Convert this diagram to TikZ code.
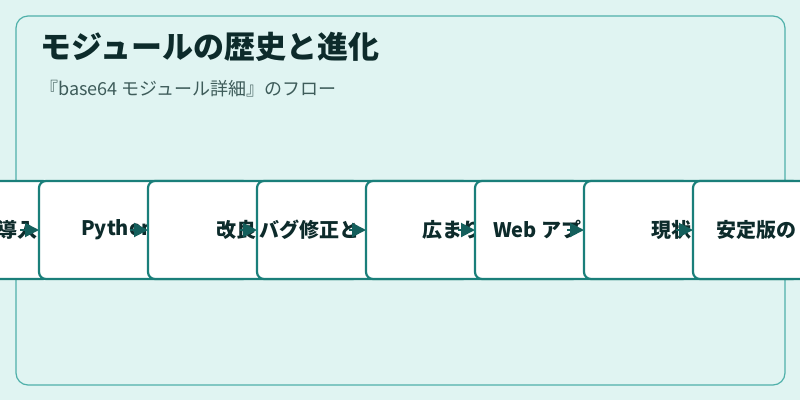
\documentclass[tikz,border=0pt]{standalone}
\usepackage{fontspec}
\setmainfont{Noto Sans CJK JP}
\usetikzlibrary{arrows.meta}
\definecolor{bgc}{HTML}{E0F4F2}
\definecolor{frame}{HTML}{4FB0AA}
\definecolor{edge}{HTML}{1A7F7A}
\definecolor{tip}{HTML}{145F5C}
\definecolor{txt}{HTML}{0D2B2B}
\definecolor{subc}{HTML}{3E5C5A}
\tikzset{
  stage/.style={draw=edge, line width=2.2pt, fill=white, rounded corners=7pt},
  lbl/.style={text=txt, font=\fontsize{20}{24}\selectfont\bfseries, inner sep=0pt},
  flow/.style={-{Triangle[length=14pt,width=14pt]}, tip, line width=2pt}
}
\begin{document}
\begin{tikzpicture}[x=1pt,y=-1pt]
\useasboundingbox (0,0) rectangle (800,400);
\fill[bgc] (0,0) rectangle (800,400);
\draw[frame, line width=1.2pt, rounded corners=12pt] (16,16) rectangle (785,385);
\node[anchor=west, text=txt, font=\fontsize{31}{36}\selectfont\bfseries, inner sep=0pt] (title) at (40,47) {モジュールの歴史と進化};
\node[anchor=west, text=subc, font=\fontsize{18}{21}\selectfont, inner sep=0pt] (sub) at (40,89) {『base64 モジュール詳細』のフロー};
\begin{scope}
\clip (0,0) rectangle (800,400);
\draw[stage] (-170,181) rectangle (50,279);
\node[lbl, anchor=east] (t1) at (38,230) {導入};
\coordinate (b2) at (39,230);
\draw[flow] (20,230) -- (b2);
\draw[stage] (39,181) rectangle (250,279);
\node[lbl, anchor=west] (t2) at (81,230) {Python};
\coordinate (b3) at (148,230);
\draw[flow] (130,230) -- (b3);
\draw[stage] (148,181) rectangle (360,279);
\node[lbl, anchor=west] (t3) at (216,230) {改良};
\coordinate (b4) at (257,230);
\draw[flow] (240,230) -- (b4);
\draw[stage] (257,181) rectangle (470,279);
\node[lbl, anchor=west] (t4) at (259,230) {バグ修正と};
\coordinate (b5) at (366,230);
\draw[flow] (349,230) -- (b5);
\draw[stage] (366,181) rectangle (580,279);
\node[lbl, anchor=west] (t5) at (422,230) {広まり};
\coordinate (b6) at (475,230);
\draw[flow] (458,230) -- (b6);
\draw[stage] (475,181) rectangle (690,279);
\node[lbl, anchor=west] (t6) at (493,230) {Web アプリ};
\coordinate (b7) at (584,230);
\draw[flow] (567,230) -- (b7);
\draw[stage] (584,181) rectangle (800,279);
\node[lbl, anchor=west] (t7) at (651,230) {現状};
\coordinate (b8) at (693,230);
\draw[flow] (676,230) -- (b8);
\draw[stage] (693,181) rectangle (900,279);
\node[lbl, anchor=west] (t8) at (716,230) {安定版の};
\end{scope}
\end{tikzpicture}
\end{document}
